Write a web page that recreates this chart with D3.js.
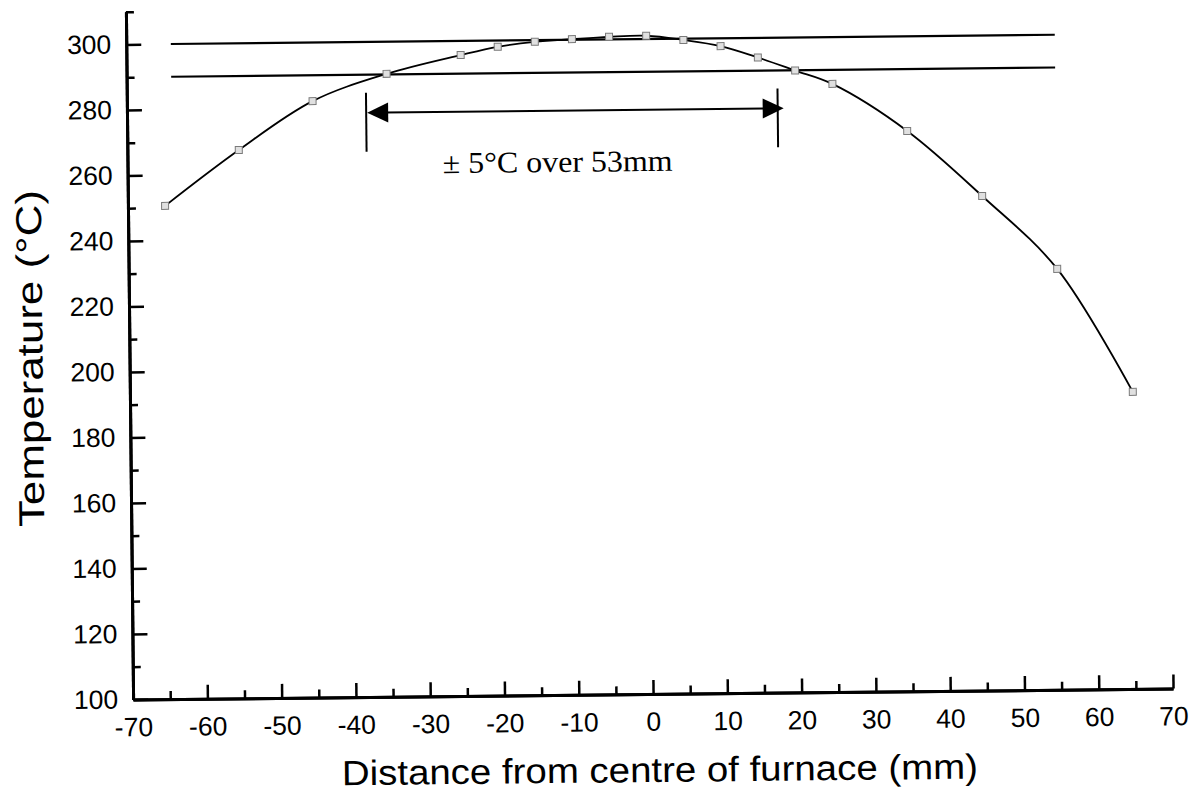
<!DOCTYPE html>
<html>
<head>
<meta charset="utf-8">
<script src="https://cdn.jsdelivr.net/npm/d3@7"></script>
<style>
  html, body { margin: 0; padding: 0; background: #fff; }
  svg { display: block; }
</style>
</head>
<body>
<svg id="chart" width="1199" height="795"></svg>
<script>
// Measured furnace temperature profile
const positions = [-65, -55, -45, -35, -25, -20, -15, -10, -5, 0, 5, 10, 15, 20, 25, 35, 45, 55, 65];
const temperatures = [250.6, 267.4, 282.1, 290.2, 295.7, 298.1, 299.5, 300.2, 300.8, 301.0, 299.6, 297.6, 294.0, 289.9, 285.7, 271.1, 251.0, 228.5, 190.7];

// Axis ticks
const xMajorTicks = [-70, -60, -50, -40, -30, -20, -10, 0, 10, 20, 30, 40, 50, 60, 70];
const xMinorTicks = [-65, -55, -45, -35, -25, -15, -5, 5, 15, 25, 35, 45, 55, 65];
const yMajorTicks = [100, 120, 140, 160, 180, 200, 220, 240, 260, 280, 300];
const yMinorTicks = [110, 130, 150, 170, 190, 210, 230, 250, 270, 290, 310];

// Tolerance band lines and the uniform-zone span
const bandLevels = [300, 290];
const bandExtent = [-64, 55];
const spanExtent = [-37.8, 17.6];
const spanLevel = 278.4;
const spanBracket = [266.5, 284.5];
const spanLabel = "\u00B1 5\u00B0C over 53mm";
const spanLabelAt = [-12.1, 259.7];

const xTitle = "Distance from centre of furnace (mm)";
const yTitle = "Temperature  (\u00B0C)";

const svg = d3.select("#chart");
const plotLeft = 130, plotRight = 1170, plotTop = 6.25, plotBottom = 694;

const x = d3.scaleLinear().domain([-70, 70]).range([plotLeft, plotRight]);
const y = d3.scaleLinear().domain([100, 310]).range([plotBottom, plotTop]);

// whole figure sits at a slight tilt
const root = svg.append("g").attr("transform", "rotate(-0.6, 650, 400)");

const fmt = d => String(d);

// y axis: major ticks labelled, minor ticks plain, all pointing inward
const yMajor = root.append("g")
  .attr("transform", `translate(${plotLeft},0)`)
  .call(d3.axisLeft(y).tickValues(yMajorTicks).tickSize(-15).tickSizeOuter(0).tickPadding(15).tickFormat(fmt));
const yMinor = root.append("g")
  .attr("transform", `translate(${plotLeft},0)`)
  .call(d3.axisLeft(y).tickValues(yMinorTicks).tickSize(-8).tickSizeOuter(0).tickFormat(""));

// x axis
const xMajor = root.append("g")
  .attr("transform", `translate(0,${plotBottom})`)
  .call(d3.axisBottom(x).tickValues(xMajorTicks).tickSize(-14).tickSizeOuter(0).tickPadding(18).tickFormat(fmt));
const xMinor = root.append("g")
  .attr("transform", `translate(0,${plotBottom})`)
  .call(d3.axisBottom(x).tickValues(xMinorTicks).tickSize(-8).tickSizeOuter(0).tickFormat(""));

[yMajor, yMinor, xMajor, xMinor].forEach(g => {
  g.select(".domain").attr("stroke", "#000").attr("stroke-width", 3);
  g.selectAll(".tick line").attr("stroke", "#000").attr("stroke-width", 2.5);
  g.selectAll(".tick text")
    .attr("fill", "#000")
    .attr("font-family", "'Liberation Sans', Arial, sans-serif")
    .attr("font-size", 26.5);
});
// the -70 tick coincides with the y axis
xMajor.selectAll(".tick").filter(d => d === -70).select("line").remove();

// band lines
root.append("g").selectAll("line").data(bandLevels).join("line")
  .attr("x1", x(bandExtent[0])).attr("x2", x(bandExtent[1]))
  .attr("y1", d => y(d)).attr("y2", d => y(d))
  .attr("stroke", "#000").attr("stroke-width", 2.2);

// fitted profile
const pts = positions.map((p, i) => [p, temperatures[i]]);
root.append("path")
  .datum(pts)
  .attr("d", d3.line().x(d => x(d[0])).y(d => y(d[1])).curve(d3.curveCatmullRom.alpha(0.5)))
  .attr("fill", "none").attr("stroke", "#000").attr("stroke-width", 1.8);

// measured points
root.append("g").selectAll("rect").data(pts).join("rect")
  .attr("x", d => x(d[0]) - 3.5).attr("y", d => y(d[1]) - 3.5)
  .attr("width", 7).attr("height", 7)
  .attr("fill", "#e0e0e0").attr("stroke", "#7a7a7a").attr("stroke-width", 1);

// uniform-zone span with arrowheads and end brackets
const ann = root.append("g");
spanExtent.forEach(v => {
  ann.append("line")
    .attr("x1", x(v)).attr("x2", x(v))
    .attr("y1", y(spanBracket[1])).attr("y2", y(spanBracket[0]))
    .attr("stroke", "#000").attr("stroke-width", 2);
});
const sy = y(spanLevel);
const xa = x(spanExtent[0]) + 1, xb = x(spanExtent[1]) + 6;
ann.append("line")
  .attr("x1", xa + 18).attr("x2", xb - 18)
  .attr("y1", sy).attr("y2", sy)
  .attr("stroke", "#000").attr("stroke-width", 2);
ann.append("path")
  .attr("d", `M${xa},${sy} L${xa + 21},${sy - 10} L${xa + 21},${sy + 10} Z`)
  .attr("fill", "#000");
ann.append("path")
  .attr("d", `M${xb},${sy} L${xb - 21},${sy - 10} L${xb - 21},${sy + 10} Z`)
  .attr("fill", "#000");
ann.append("text")
  .attr("x", x(spanLabelAt[0])).attr("y", y(spanLabelAt[1]))
  .attr("text-anchor", "middle")
  .attr("font-family", "'Liberation Serif', 'Times New Roman', serif")
  .attr("font-size", 30)
  .attr("textLength", 230).attr("lengthAdjust", "spacingAndGlyphs")
  .text(spanLabel);

// axis titles
root.append("text")
  .attr("x", 656).attr("y", 782)
  .attr("text-anchor", "middle")
  .attr("font-family", "'Liberation Sans', Arial, sans-serif")
  .attr("font-size", 35)
  .attr("textLength", 636).attr("lengthAdjust", "spacingAndGlyphs")
  .text(xTitle);

root.append("text")
  .attr("transform", "translate(43,352) rotate(-90)")
  .attr("text-anchor", "middle")
  .attr("font-family", "'Liberation Sans', Arial, sans-serif")
  .attr("font-size", 36)
  .attr("textLength", 337).attr("lengthAdjust", "spacingAndGlyphs")
  .text(yTitle);
</script>
</body>
</html>
